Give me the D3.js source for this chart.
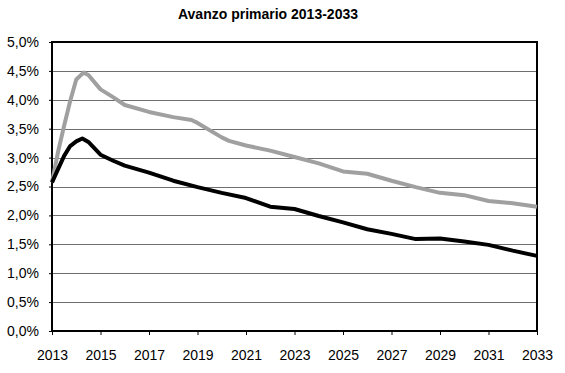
<!DOCTYPE html>
<html><head><meta charset="utf-8">
<script src="https://cdn.jsdelivr.net/npm/d3@7"></script>
<style>body{margin:0;background:#fff}svg{display:block}</style>
</head><body>
<svg id="c" width="565" height="373"></svg>
<script>
const title = "Avanzo primario 2013-2033";
const xTicks = [2013,2015,2017,2019,2021,2023,2025,2027,2029,2031,2033];
const yTicks = [0,0.5,1,1.5,2,2.5,3,3.5,4,4.5,5];
const grayYears = [2013,2013.25,2013.5,2013.75,2014,2014.3,2014.5,2015,2015.5,2016,2017,2018,2018.75,2019,2020,2020.3,2021,2022,2023,2024,2025,2026,2027,2028,2029,2030,2031,2032,2033];
const grayValues = [2.57,3.1,3.55,3.98,4.35,4.47,4.43,4.18,4.05,3.91,3.79,3.7,3.65,3.6,3.35,3.29,3.21,3.12,3.01,2.9,2.76,2.72,2.6,2.49,2.39,2.35,2.25,2.21,2.15];
const blackYears = [2013,2013.25,2013.5,2013.75,2014,2014.25,2014.5,2015,2015.5,2016,2017,2018,2019,2020,2021,2022,2023,2024,2025,2026,2027,2028,2029,2030,2031,2032,2033];
const blackValues = [2.57,2.8,3.03,3.2,3.28,3.33,3.27,3.05,2.95,2.86,2.74,2.6,2.49,2.39,2.3,2.15,2.11,1.99,1.88,1.76,1.68,1.59,1.6,1.55,1.49,1.39,1.30];

const svg = d3.select("#c");
const L=52, R=537, T=42, B=331;
const x = d3.scaleLinear().domain([2013,2033]).range([L,R]);
const y = d3.scaleLinear().domain([0,5]).range([B,T]);
const font = "'Liberation Sans', Arial, sans-serif";

svg.append("text").attr("x",268).attr("y",19).attr("text-anchor","middle")
  .attr("font-family",font).attr("font-weight","bold").attr("font-size",14).text(title);

// gridlines
svg.append("g").selectAll("line").data(yTicks.filter(d=>d>0&&d<5)).join("line")
  .attr("x1",L).attr("x2",R).attr("y1",d=>Math.round(y(d))+0.5).attr("y2",d=>Math.round(y(d))+0.5)
  .attr("stroke","#6e6e6e").attr("stroke-width",1);

// axes
const fmt = d => d3.format(".1f")(d).replace(".",",")+"%";
const ya = svg.append("g").attr("transform",`translate(${L},0)`)
  .call(d3.axisLeft(y).tickValues(yTicks).tickFormat(fmt).tickSize(3).tickPadding(10));
const xa = svg.append("g").attr("transform",`translate(0,${B})`)
  .call(d3.axisBottom(x).tickValues(xTicks).tickFormat(d3.format("d")).tickSize(4).tickPadding(15));
[ya,xa].forEach(a=>{
  a.select(".domain").remove();
  a.selectAll("line").attr("stroke","#000");
  a.selectAll("text").attr("font-family",font).attr("font-size",14).attr("fill","#000");
});

// plot frame
svg.append("rect").attr("x",L).attr("y",T).attr("width",R-L).attr("height",B-T)
  .attr("fill","none").attr("stroke","#000").attr("stroke-width",2);

const line = d3.line().x(d=>x(d[0])).y(d=>y(d[1]));
svg.append("path").datum(d3.zip(grayYears,grayValues)).attr("d",line)
  .attr("fill","none").attr("stroke","#a0a0a0").attr("stroke-width",4).attr("stroke-linejoin","round");
svg.append("path").datum(d3.zip(blackYears,blackValues)).attr("d",line)
  .attr("fill","none").attr("stroke","#000").attr("stroke-width",4).attr("stroke-linejoin","round");
</script>
</body></html>
